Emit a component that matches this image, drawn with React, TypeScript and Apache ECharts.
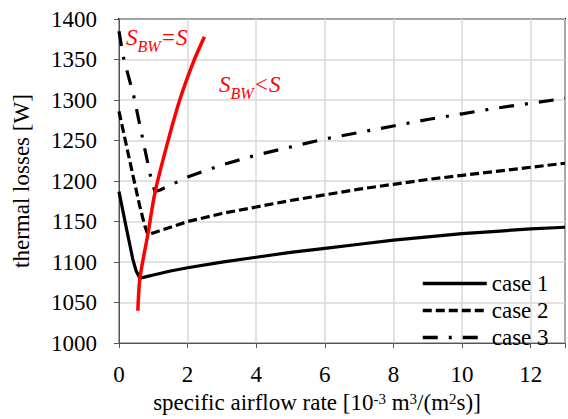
import React, { useEffect, useRef } from "react";
import * as echarts from "echarts";

const FONT = "Liberation Serif";

const xTicks = [0, 2, 4, 6, 8, 10, 12];
const yTicks = [1000, 1050, 1100, 1150, 1200, 1250, 1300, 1350, 1400];

const case1: [number, number][] = [
  [0, 1187], [0.2, 1145], [0.4, 1104], [0.5, 1089], [0.61, 1080], [0.8, 1082],
  [1, 1084], [1.5, 1089], [2, 1093], [3, 1100], [4, 1106], [5, 1112], [6, 1117],
  [7, 1122], [8, 1127], [9, 1131], [10, 1135], [11, 1138], [12, 1141], [13, 1143],
];
const case2: [number, number][] = [
  [0, 1286], [0.2, 1247], [0.4, 1208], [0.6, 1170], [0.75, 1145], [0.84, 1134],
  [1, 1136], [1.5, 1143], [2, 1150], [3, 1160], [4, 1168], [5, 1176], [6, 1183],
  [7, 1190], [8, 1196], [9, 1202], [10, 1207], [11, 1212], [12, 1217], [13, 1222],
];
const case3: [number, number][] = [
  [0, 1385], [0.12, 1354], [0.43, 1305], [0.75, 1240], [0.95, 1200], [1.05, 1187],
  [1.2, 1189], [1.5, 1195], [2, 1205], [3, 1220], [4, 1232], [5, 1242], [6, 1252],
  [7, 1260], [8, 1268], [9, 1276], [10, 1283], [11, 1290], [12, 1296], [13, 1302],
];
const boundary: [number, number][] = [
  [0.55, 1040], [0.61, 1080], [0.84, 1134], [1.05, 1186], [1.4, 1245],
  [1.77, 1300], [2.15, 1345], [2.49, 1378],
];

export default function App() {
  const ref = useRef<HTMLDivElement>(null);
  useEffect(() => {
    if (!ref.current) return;
    const chart = echarts.init(ref.current, undefined, { renderer: "svg" });
    const redRich = {
      s: { fontFamily: FONT, fontStyle: "italic", fontSize: 23, lineHeight: 23, fill: "#ff0000", verticalAlign: "top" },
      sub: { fontFamily: FONT, fontStyle: "italic", fontSize: 16, lineHeight: 16, fill: "#ff0000", verticalAlign: "top", padding: [12, 0, 0, 0] },
    };
    const tickRich = { t: { fontFamily: FONT, fontSize: 23, lineHeight: 23, color: "#000" } };
    chart.setOption({
      animation: false,
      backgroundColor: "#ffffff",
      textStyle: { fontFamily: FONT },
      grid: { left: 119, top: 19, right: 1, bottom: 71, show: true, borderColor: "#000", borderWidth: 1.8, backgroundColor: "transparent" },
      xAxis: {
        type: "value",
        min: 0,
        max: 13,
        interval: 2,
        name: "specific airflow rate [10{sup|-3} m{sup|3}/(m{sup|2}s)]",
        nameLocation: "middle",
        nameGap: 44,
        nameTextStyle: {
          fontFamily: FONT, fontSize: 23, color: "#000", padding: [0, 50, 0, 0],
          rich: {
            sup: { fontFamily: FONT, fontSize: 15, color: "#000", verticalAlign: "top", lineHeight: 15 },
          },
        },
        axisLabel: {
          fontFamily: FONT, fontSize: 23, color: "#000", margin: 20,
          rich: tickRich,
          formatter: (v: number) => (xTicks.includes(v) ? `{t|${v}}` : ""),
        },
        splitLine: { lineStyle: { color: "#d9d9d9", width: 1.5 } },
      },
      yAxis: {
        type: "value",
        min: 1000,
        max: 1400,
        interval: 50,
        name: "thermal losses [W]",
        nameLocation: "middle",
        nameGap: 86,
        nameTextStyle: { fontFamily: FONT, fontSize: 23, color: "#000" },
        axisLabel: {
          fontFamily: FONT, fontSize: 23, color: "#000", margin: 22,
          rich: tickRich,
          formatter: (v: number) => (yTicks.includes(v) ? `{t|${v}}` : ""),
        },
        splitLine: { lineStyle: { color: "#d9d9d9", width: 1.5 } },
      },
      legend: {
        orient: "vertical",
        left: 421,
        top: 272,
        itemWidth: 64,
        itemHeight: 14,
        itemGap: 4,
        padding: 0,
        itemStyle: { color: "transparent", borderWidth: 0, opacity: 0 },
        formatter: (name: string) => `{t|${name}}`,
        textStyle: { fontFamily: FONT, fontSize: 23, color: "#000", rich: tickRich },
        data: [
          { name: "case 1", lineStyle: { width: 3.5, color: "#000" } },
          { name: "case 2", lineStyle: { width: 3.5, color: "#000" } },
          { name: "case 3", lineStyle: { width: 3.5, color: "#000" } },
        ],
      },
      series: [
        { name: "case 1", type: "line", data: case1, symbol: "none", itemStyle: { color: "#000" }, lineStyle: { color: "#000", width: 3.2, type: "solid" } },
        { name: "case 2", type: "line", data: case2, symbol: "none", itemStyle: { color: "#000" }, lineStyle: { color: "#000", width: 3.2, type: [9, 4] } },
        { name: "case 3", type: "line", data: case3, symbol: "none", itemStyle: { color: "#000" }, lineStyle: { color: "#000", width: 3.2, type: [15, 11, 3, 11] } },
        { name: "boundary", type: "line", data: boundary, symbol: "none", smooth: 0.3, itemStyle: { color: "#ff0000" }, lineStyle: { color: "#ff0000", width: 3.5 } },
      ],
      graphic: [
        { type: "text", left: 126, top: 26, z: 100, style: { text: "{s|S}{sub|BW}{s|=S}", rich: redRich, fill: "#ff0000" } },
        { type: "text", left: 219, top: 73, z: 100, style: { text: "{s|S}{sub|BW}{s|<S}", rich: redRich, fill: "#ff0000" } },
      ],
    });
    return () => chart.dispose();
  }, []);
  return <div ref={ref} style={{ position: "fixed", left: 0, top: 0, width: 568, height: 419 }} />;
}
